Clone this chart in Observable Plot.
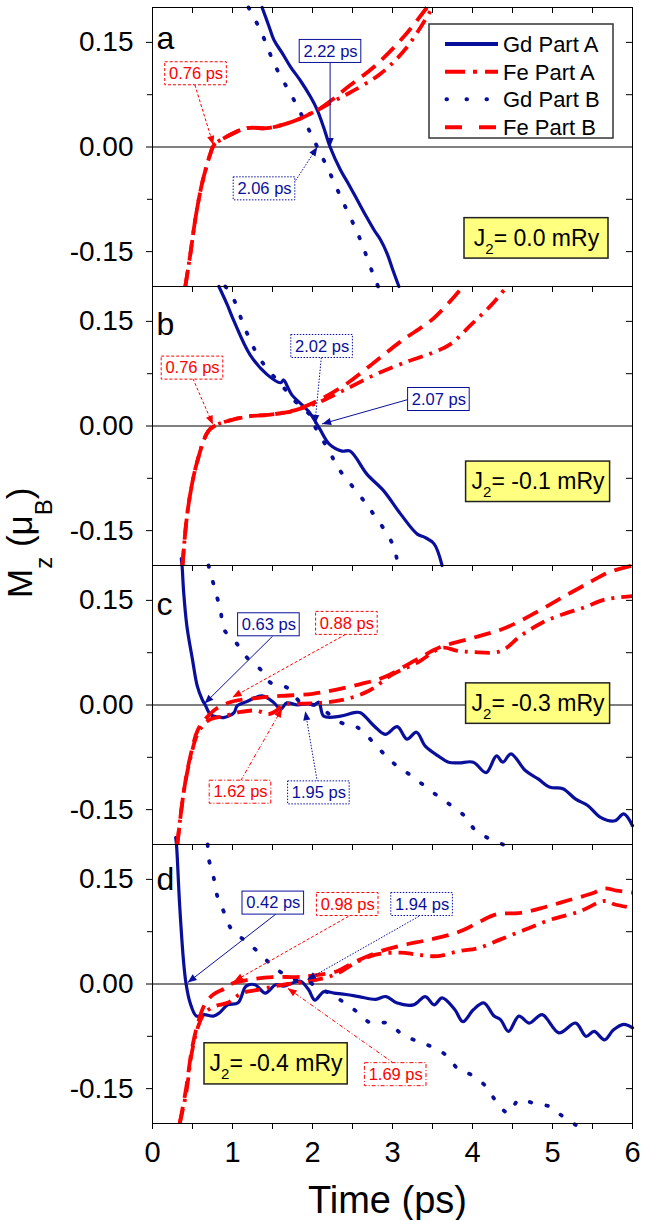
<!DOCTYPE html>
<html><head><meta charset="utf-8">
<script src="https://cdn.jsdelivr.net/npm/d3@7"></script>
<script src="https://cdn.jsdelivr.net/npm/@observablehq/plot@0.6"></script>
<style>
body{margin:0;background:#fff;font-family:"Liberation Sans",Arial,sans-serif;}
#chart{position:relative;width:654px;height:1220px;overflow:hidden;}
</style></head><body><div id="chart"></div>
<script>
// ---------- data (time in ps, Mz in muB) ----------
const panels = ["a", "b", "c", "d"];
const seriesNames = ["Gd Part A", "Fe Part A", "Gd Part B", "Fe Part B"];

// panel a  (J2 = 0.0 mRy)
const gdA_a = [[1.37,0.2],[1.45,0.175],[1.52,0.153],[1.62,0.135],[1.725,0.115],[1.85,0.095],[1.975,0.072],[2.06,0.053],[2.14,0.028],[2.22,0],[2.35,-0.033],[2.45,-0.053],[2.56,-0.076],[2.66,-0.097],[2.77,-0.119],[2.85,-0.133],[2.93,-0.152],[3.0,-0.175],[3.08,-0.2]];
const feA_a = [[0.41,-0.2],[0.475,-0.152],[0.54,-0.1],[0.62,-0.052],[0.725,-0.009],[0.77,0.003],[0.93,0.015],[1.18,0.027],[1.43,0.027],[1.6,0.031],[1.81,0.039],[2.06,0.053],[2.27,0.066],[2.5,0.08],[2.85,0.105],[3.18,0.143],[3.5,0.2]];
const gdB_a = [[1.2,0.2],[1.35,0.167],[1.54,0.115],[1.77,0.067],[1.975,0.02],[2.06,0],[2.2,-0.033],[2.37,-0.076],[2.58,-0.128],[2.75,-0.18],[2.82,-0.2]];
const feB_a = [[0.41,-0.2],[0.475,-0.152],[0.54,-0.1],[0.62,-0.052],[0.725,-0.009],[0.77,0.003],[0.93,0.015],[1.18,0.027],[1.43,0.027],[1.6,0.031],[1.81,0.039],[2.06,0.053],[2.25,0.068],[2.43,0.085],[2.77,0.115],[3.14,0.158],[3.43,0.2]];

// panel b  (J2 = -0.1 mRy)
const gdA_b = [[0.83,0.2],[0.93,0.175],[1.02,0.15],[1.22,0.102],[1.43,0.074],[1.6,0.062],[1.64,0.066],[1.68,0.058],[1.74,0.045],[1.95,0.021],[2.08,-0.002],[2.21,-0.026],[2.37,-0.036],[2.47,-0.036],[2.68,-0.069],[2.89,-0.093],[3.1,-0.126],[3.31,-0.155],[3.41,-0.16],[3.52,-0.169],[3.62,-0.2]];
const feA_b = [[0.375,-0.2],[0.44,-0.121],[0.55,-0.055],[0.7,-0.007],[0.81,0.002],[1.0,0.009],[1.22,0.014],[1.45,0.016],[1.64,0.019],[1.85,0.025],[2.06,0.033],[2.37,0.05],[2.79,0.074],[3.2,0.093],[3.5,0.105],[3.72,0.117],[3.98,0.145],[4.24,0.174],[4.43,0.2]];
const gdB_b = [[0.91,0.2],[0.99,0.188],[1.17,0.136],[1.35,0.095],[1.64,0.055],[1.82,0.031],[2.0,0.012],[2.02,0.002],[2.21,-0.036],[2.32,-0.06],[2.58,-0.098],[2.73,-0.121],[3.0,-0.169],[3.07,-0.2]];
const feB_b = [[0.375,-0.2],[0.44,-0.121],[0.55,-0.055],[0.7,-0.007],[0.81,0.002],[1.0,0.009],[1.22,0.014],[1.45,0.016],[1.64,0.019],[1.74,0.021],[2.06,0.036],[2.42,0.06],[2.79,0.093],[3.1,0.121],[3.52,0.155],[3.88,0.2]];

// panel c  (J2 = -0.3 mRy)
const gdA_c = [[0.36,0.21],[0.37,0.199],[0.39,0.161],[0.43,0.113],[0.5,0.065],[0.56,0.027],[0.62,0.008],[0.66,0],[0.725,-0.014],[0.8,-0.017],[0.89,-0.018],[0.95,-0.016],[1.02,-0.011],[1.06,-0.001],[1.18,0.005],[1.37,0.013],[1.52,0.003],[1.6,-0.006],[1.68,0.003],[1.81,0],[1.94,0.002],[2.02,0],[2.08,0.004],[2.14,-0.016],[2.35,-0.016],[2.52,-0.011],[2.6,-0.011],[2.77,-0.03],[2.91,-0.042],[3.06,-0.031],[3.18,-0.049],[3.3,-0.039],[3.41,-0.059],[3.57,-0.073],[3.7,-0.082],[3.83,-0.083],[4.01,-0.082],[4.17,-0.097],[4.3,-0.073],[4.38,-0.082],[4.48,-0.07],[4.66,-0.094],[4.82,-0.106],[4.97,-0.118],[5.13,-0.12],[5.29,-0.135],[5.44,-0.144],[5.6,-0.161],[5.78,-0.166],[5.89,-0.156],[6.0,-0.173]];
const feA_c = [[0.31,-0.2],[0.39,-0.125],[0.47,-0.078],[0.57,-0.04],[0.7,-0.022],[0.9,-0.016],[1.1,-0.01],[1.3,-0.008],[1.45,-0.013],[1.55,-0.008],[1.62,0],[1.9,0.002],[2.1,0.003],[2.4,0.008],[2.7,0.02],[3.0,0.044],[3.3,0.06],[3.62,0.082],[3.8,0.078],[4.0,0.076],[4.35,0.077],[4.6,0.099],[4.87,0.118],[5.13,0.13],[5.4,0.14],[5.65,0.151],[6.0,0.156]];
const gdB_c = [[0.7,0.2],[0.725,0.19],[0.79,0.161],[0.85,0.137],[0.89,0.109],[1.04,0.09],[1.18,0.068],[1.35,0.051],[1.475,0.032],[1.68,0.025],[1.85,0.004],[1.95,0.001],[2.06,-0.001],[2.35,-0.025],[2.56,-0.032],[2.85,-0.065],[3.02,-0.084],[3.23,-0.101],[3.56,-0.13],[3.89,-0.158],[4.06,-0.182],[4.5,-0.205]];
const feB_c = [[0.31,-0.2],[0.39,-0.125],[0.47,-0.075],[0.57,-0.035],[0.7,-0.015],[0.8,-0.005],[0.88,0],[1.0,0.005],[1.3,0.01],[1.6,0.013],[2.0,0.016],[2.3,0.022],[2.6,0.03],[2.9,0.04],[3.3,0.065],[3.6,0.083],[4.0,0.096],[4.4,0.11],[4.8,0.133],[5.15,0.156],[5.45,0.175],[5.7,0.19],[6.0,0.2]];

// panel d  (J2 = -0.4 mRy)
const gdA_d = [[0.29,0.21],[0.3,0.2],[0.34,0.112],[0.39,0.03],[0.42,0],[0.47,-0.027],[0.55,-0.046],[0.65,-0.044],[0.76,-0.046],[0.83,-0.042],[0.94,-0.03],[1.07,-0.027],[1.17,-0.003],[1.28,-0.001],[1.41,-0.013],[1.54,-0.001],[1.64,-0.003],[1.74,0.001],[1.85,0.004],[1.95,-0.008],[2.03,-0.023],[2.14,-0.011],[2.27,-0.013],[2.42,-0.015],[2.58,-0.018],[2.79,-0.022],[2.92,-0.018],[3.05,-0.027],[3.26,-0.03],[3.41,-0.018],[3.52,-0.03],[3.62,-0.02],[3.78,-0.037],[3.88,-0.054],[4.01,-0.037],[4.14,-0.027],[4.27,-0.046],[4.35,-0.051],[4.45,-0.068],[4.58,-0.046],[4.71,-0.056],[4.87,-0.044],[5.08,-0.07],[5.29,-0.056],[5.42,-0.075],[5.52,-0.068],[5.65,-0.08],[5.76,-0.066],[5.89,-0.058],[6.0,-0.063]];
const feA_d = [[0.34,-0.2],[0.42,-0.157],[0.49,-0.099],[0.57,-0.061],[0.65,-0.042],[0.78,-0.032],[0.94,-0.027],[1.12,-0.013],[1.33,-0.008],[1.54,-0.003],[1.69,0],[1.95,0.004],[2.27,0.013],[2.58,0.033],[2.79,0.042],[3.1,0.045],[3.31,0.042],[3.57,0.04],[3.83,0.047],[4.09,0.052],[4.35,0.064],[4.66,0.078],[4.97,0.092],[5.34,0.104],[5.65,0.119],[5.78,0.114],[6.0,0.109]];
const gdB_d = [[0.69,0.2],[0.7,0.181],[0.76,0.155],[0.81,0.126],[0.89,0.104],[0.99,0.078],[1.17,0.061],[1.33,0.045],[1.51,0.025],[1.69,0.011],[1.85,0.004],[1.94,0.004],[2.06,-0.005],[2.24,-0.015],[2.4,-0.027],[2.58,-0.042],[2.73,-0.056],[2.94,-0.056],[3.13,-0.073],[3.31,-0.082],[3.49,-0.09],[3.67,-0.102],[3.83,-0.123],[3.98,-0.13],[4.17,-0.147],[4.3,-0.169],[4.45,-0.185],[4.58,-0.166],[4.77,-0.171],[4.97,-0.176],[5.13,-0.19],[5.29,-0.202]];
const feB_d = [[0.34,-0.2],[0.42,-0.15],[0.49,-0.095],[0.57,-0.055],[0.65,-0.03],[0.76,-0.015],[0.91,-0.006],[0.98,0],[1.2,0.006],[1.5,0.01],[1.8,0.01],[2.0,0.012],[2.3,0.018],[2.5,0.03],[2.8,0.045],[3.1,0.055],[3.4,0.062],[3.7,0.07],[3.9,0.078],[4.1,0.09],[4.3,0.1],[4.6,0.102],[4.9,0.11],[5.2,0.12],[5.5,0.13],[5.65,0.137],[5.8,0.134],[6.0,0.131]];

const seriesData = {
  "Gd Part A": {a: gdA_a, b: gdA_b, c: gdA_c, d: gdA_d},
  "Fe Part A": {a: feA_a, b: feA_b, c: feA_c, d: feA_d},
  "Gd Part B": {a: gdB_a, b: gdB_b, c: gdB_c, d: gdB_d},
  "Fe Part B": {a: feB_a, b: feB_b, c: feB_c, d: feB_d}
};

// crossing-time annotations
const annPanel  = ["a","a","a","b","b","b","c","c","c","c","d","d","d","d"];
const annLabel  = ["0.76 ps","2.22 ps","2.06 ps","0.76 ps","2.02 ps","2.07 ps","0.63 ps","0.88 ps","1.62 ps","1.95 ps","0.42 ps","0.98 ps","1.94 ps","1.69 ps"];
const annSeries = ["Fe Part B","Gd Part A","Gd Part B","Fe Part B","Gd Part B","Gd Part A","Gd Part A","Fe Part B","Fe Part A","Gd Part B","Gd Part A","Fe Part B","Gd Part B","Fe Part A"];
const annBoxX   = [0.544,2.225,1.4,0.5,2.12,3.58,1.455,2.43,1.1,2.08,1.51,2.44,3.37,3.04];
const annBoxY   = [0.105,0.137,-0.06,0.083,0.114,0.038,0.115,0.117,-0.125,-0.126,0.116,0.114,0.114,-0.13];
const annFromX  = [0.53,2.22,1.79,0.505,2.11,3.195,1.5,2.41,1.1,2.06,1.54,2.45,3.33,3.02];
const annFromY  = [0.089,0.121,-0.048,0.068,0.098,0.038,0.0985,0.101,-0.109,-0.11,0.1,0.097,0.097,-0.114];
const annTipX   = [0.76,2.22,2.06,0.755,2.03,2.12,0.65,1.0,1.62,1.91,0.44,1.02,1.93,1.69];
const annTipY   = [0.003,0.0,0.0,0.002,0.003,0.003,0.002,0.011,-0.005,-0.009,0.002,0.004,0.006,-0.006];

// J2 labels
const j2Panel = ["a","b","c","d"];
const j2Text  = ["J₂= 0.0 mRy","J₂= -0.1 mRy","J₂= -0.3 mRy","J₂= -0.4 mRy"];
const j2X1 = [3.9,3.92,3.92,0.65];
const j2X2 = [5.7,5.72,5.72,2.44];
const j2Y1 = [-0.16,-0.109,-0.027,-0.144];
const j2Y2 = [-0.102,-0.051,0.031,-0.085];

const panelLetterY = [0.155,0.145,0.144,0.149];

const xTicks = [0,1,2,3,4,5,6];
const yTicks = [-0.15,0,0.15];

// ---------- styles ----------
const BLUE = "#0a0f9b", RED = "#ff0000";
const style = {
  "Gd Part A": {color: BLUE, width: 3.2, dash: null,        cap: "round", ann: null,      leg: null},
  "Fe Part A": {color: RED,  width: 3.8, dash: "15,7,3,7",  cap: "butt",  ann: "4,2,1,2", leg: "20,8,4,8"},
  "Gd Part B": {color: BLUE, width: 3.8, dash: "1.5,15.5",  cap: "round", ann: "1.5,1.5", leg: "0.5,19.5"},
  "Fe Part B": {color: RED,  width: 3.8, dash: "17,9",      cap: "butt",  ann: "3,2",     leg: "17,17"}
};

// ---------- tables ----------
const rows = seriesNames.flatMap(s => panels.flatMap(p => seriesData[s][p].map(([t, v]) => ({series: s, panel: p, t, v}))));
const ann = annLabel.map((label, i) => ({panel: annPanel[i], label, series: annSeries[i], bx: annBoxX[i], by: annBoxY[i],
  fromX: annFromX[i], fromY: annFromY[i], tipX: annTipX[i], tipY: annTipY[i]}));
const j2 = j2Panel.map((panel, i) => ({panel, text: j2Text[i], x1: j2X1[i], x2: j2X2[i], y1: j2Y1[i], y2: j2Y2[i]}));
const letters = panels.map((panel, i) => ({panel, y: panelLetterY[i]}));

const BW = 0.77, BH = 0.033;
const FH = 279; // facet height (px)

const lineMarks = seriesNames.map(s => Plot.line(rows.filter(d => d.series === s), {
  x: "t", y: "v", fy: "panel", z: "panel", curve: "catmull-rom",
  stroke: style[s].color, strokeWidth: style[s].width,
  strokeDasharray: style[s].dash, strokeLinecap: style[s].cap, strokeLinejoin: "round"
}));

const annMarks = seriesNames.flatMap((s, si) => {
  const data = ann.filter(d => d.series === s);
  const st = style[s];
  return [
    Plot.link(data, {x1: "fromX", y1: "fromY", x2: "tipX", y2: "tipY", fy: "panel",
      stroke: st.color, strokeWidth: 1, strokeDasharray: st.ann, ariaDescription: "ann-arrow-" + si}),
    Plot.rect(data, {x1: d => d.bx - BW/2, x2: d => d.bx + BW/2, y1: d => d.by - BH/2, y2: d => d.by + BH/2,
      fy: "panel", fill: "white", stroke: st.color, strokeWidth: 1, strokeDasharray: st.ann}),
    Plot.text(data, {x: "bx", y: "by", text: "label", fy: "panel", fill: st.color, fontSize: 16.5})
  ];
});

const chart = Plot.plot({
  width: 654, height: 1220,
  marginLeft: 152, marginRight: 22, marginTop: 7, marginBottom: 97,
  style: {fontFamily: "'Liberation Sans', Arial, sans-serif", background: "white", color: "black"},
  x: {domain: [0, 6]},
  y: {domain: [-0.2, 0.2]},
  fy: {domain: panels, padding: 0, axis: null},
  marks: [
    Plot.ruleY([0], {stroke: "black", strokeWidth: 1}),
    ...lineMarks,
    ...annMarks,
    Plot.rect(j2, {x1: "x1", x2: "x2", y1: "y1", y2: "y2", fy: "panel", fill: "#ffff80", stroke: "#222", strokeWidth: 1.5}),
    Plot.text(j2, {x: d => (d.x1 + d.x2) / 2, y: d => (d.y1 + d.y2) / 2, text: "text", fy: "panel", fontSize: 23, fill: "black", ariaDescription: "j2-text"}),
    Plot.text(letters, {x: 0, y: "y", text: "panel", fy: "panel", dx: 4, textAnchor: "start", lineAnchor: "middle", fontSize: 32, fill: "black"}),
    Plot.frame({stroke: "black", strokeWidth: 1}),
    Plot.tickX(d3.range(0, 6.01, 0.5), {x: d => d, insetBottom: FH - 6, stroke: "black"}),
    Plot.tickY([-0.15, -0.075, 0.075, 0.15], {y: d => d, insetLeft: 480 - 6, stroke: "black"}),
    Plot.axisY({ticks: yTicks, tickFormat: d => d.toFixed(2), tickSize: 6, tickPadding: 13, fontSize: 28, label: null}),
    Plot.axisY({ticks: [-0.075, 0.075], tickFormat: () => "", tickSize: 5, label: null}),
    Plot.axisX({ticks: d3.range(0, 6.01, 0.5), tickFormat: d => xTicks.includes(d) ? String(d) : "", tickSize: 6, tickPadding: 12, fontSize: 29, label: null})
  ]
});

const host = document.getElementById("chart");
host.appendChild(chart);
const svgNode = chart.tagName.toLowerCase() === "svg" ? chart : chart.querySelector("svg");
const svg = d3.select(svgNode);

// filled arrowheads at the link ends
seriesNames.forEach((s, si) => {
  const color = style[s].color;
  svg.selectAll(`g[aria-description="ann-arrow-${si}"]`).selectAll("path").each(function() {
    const nums = (this.getAttribute("d") || "").match(/-?\d*\.?\d+(?:e-?\d+)?/g);
    if (!nums || nums.length < 4) return;
    const n = nums.map(Number);
    const x1 = n[0], y1 = n[1], x2 = n[n.length - 2], y2 = n[n.length - 1];
    const a = Math.atan2(y2 - y1, x2 - x1), L = 9, W = 3.6;
    const bx = x2 - L * Math.cos(a), by = y2 - L * Math.sin(a);
    const px = -Math.sin(a) * W, py = Math.cos(a) * W;
    d3.select(this.parentNode).append("path")
      .attr("d", `M${x2},${y2}L${bx + px},${by + py}L${bx - px},${by - py}Z`)
      .attr("fill", color).attr("stroke", "none").attr("stroke-dasharray", "none");
  });
});

// subscript in J2 labels
svg.selectAll('g[aria-description="j2-text"] text').each(function() {
  const s = this.textContent; const k = s.indexOf("₂");
  if (k < 0) return;
  const t = d3.select(this); t.text("");
  t.append("tspan").text(s.slice(0, k));
  t.append("tspan").attr("font-size", 15).attr("dy", 8).text("2");
  t.append("tspan").attr("dy", -8).text(s.slice(k + 1));
});

// axis titles
const yl = svg.append("text").attr("transform", "translate(32,598) rotate(-90)")
  .attr("text-anchor", "start").attr("font-size", 35).attr("fill", "black");
yl.append("tspan").text("M");
yl.append("tspan").attr("font-size", 24).attr("dy", 20).text("z");
yl.append("tspan").attr("dy", -20).text(" (μ");
yl.append("tspan").attr("font-size", 24).attr("dy", 20).text("B");
yl.append("tspan").attr("dy", -20).text(")");
svg.append("text").attr("x", 387.5).attr("y", 1213).attr("text-anchor", "middle")
  .attr("font-size", 38).attr("fill", "black").text("Time (ps)");

// legend (panel a)
const lg = svg.append("g").attr("transform", "translate(429,24)").attr("text-anchor", "start");
lg.append("rect").attr("width", 184).attr("height", 114).attr("fill", "#fff")
  .attr("stroke", "#333").attr("stroke-width", 1.5);
const legRowY = [20, 47.7, 75.3, 103.3];
seriesNames.forEach((s, i) => {
  const st = style[s];
  lg.append("line").attr("x1", s === "Gd Part B" ? 17.5 : 16).attr("x2", 69)
    .attr("y1", legRowY[i]).attr("y2", legRowY[i])
    .attr("stroke", st.color).attr("stroke-width", 4)
    .attr("stroke-dasharray", st.leg).attr("stroke-linecap", s === "Gd Part B" ? "round" : "butt");
  lg.append("text").attr("x", 74).attr("y", legRowY[i] + 8).attr("text-anchor", "start")
    .attr("font-size", 22).attr("fill", "black").text(s);
});
</script>
</body></html>
